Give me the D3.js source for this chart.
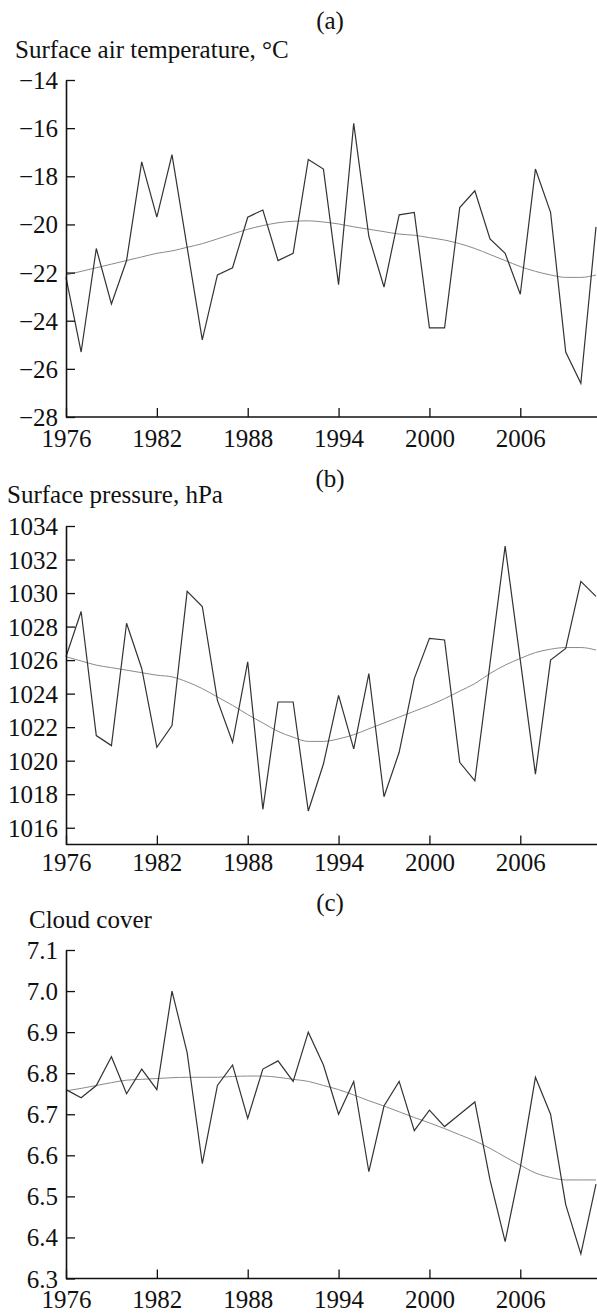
<!DOCTYPE html>
<html>
<head>
<meta charset="utf-8">
<script src="https://cdn.jsdelivr.net/npm/d3@7"></script>
<style>
  html, body { margin: 0; padding: 0; background: #fff; }
  svg { display: block; }
  text { font-family: "Liberation Serif", "Times New Roman", serif; fill: #111; }
</style>
</head>
<body>
<svg width="597" height="1314"></svg>
<script>
const years = d3.range(1976, 2012)
const xTicks = [1976, 1982, 1988, 1994, 2000, 2006]

// (a) surface air temperature
const tempValues = [-22.2, -25.3, -21.0, -23.3, -21.5, -17.4, -19.7, -17.1, -20.95, -24.8,
    -22.1, -21.8, -19.7, -19.4, -21.5, -21.2, -17.3, -17.7, -22.5, -15.8,
    -20.5, -22.6, -19.6, -19.5, -24.3, -24.3, -19.3, -18.6, -20.6, -21.2,
    -22.9, -17.7, -19.5, -25.3, -26.6, -20.1]
const tempSmooth = [-22.1, -21.95, -21.8, -21.65, -21.5, -21.35, -21.2, -21.1, -20.95, -20.8,
    -20.6, -20.4, -20.2, -20.05, -19.93, -19.87, -19.85, -19.9, -19.98, -20.1,
    -20.2, -20.3, -20.4, -20.45, -20.55, -20.65, -20.8, -21.0, -21.25, -21.5,
    -21.75, -21.95, -22.1, -22.2, -22.2, -22.1]
const tempTicks = [-28, -26, -24, -22, -20, -18, -16, -14]

// (b) surface pressure
const presValues = [1026.2, 1028.9, 1021.5, 1020.9, 1028.2, 1025.5, 1020.8, 1022.1, 1030.1, 1029.2,
    1023.6, 1021.1, 1025.9, 1017.1, 1023.5, 1023.5, 1017.0, 1019.8, 1023.9, 1020.7,
    1025.2, 1017.85, 1020.5, 1024.9, 1027.3, 1027.2, 1019.9, 1018.8, 1025.8, 1032.8,
    1026.0, 1019.2, 1026.0, 1026.7, 1030.7, 1029.8]
const presSmooth = [1026.2, 1025.95, 1025.7, 1025.55, 1025.4, 1025.25, 1025.1, 1025.0, 1024.7, 1024.3,
    1023.8, 1023.3, 1022.75, 1022.25, 1021.75, 1021.4, 1021.15, 1021.15, 1021.3, 1021.55,
    1021.9, 1022.25, 1022.6, 1022.95, 1023.3, 1023.7, 1024.15, 1024.6, 1025.2, 1025.7,
    1026.1, 1026.45, 1026.65, 1026.75, 1026.75, 1026.6]
const presTicks = [1016, 1018, 1020, 1022, 1024, 1026, 1028, 1030, 1032, 1034]

// (c) cloud cover
const cloudValues = [6.76, 6.74, 6.77, 6.84, 6.75, 6.81, 6.76, 7.00, 6.85, 6.58,
    6.77, 6.82, 6.69, 6.81, 6.83, 6.78, 6.90, 6.82, 6.70, 6.78,
    6.56, 6.72, 6.78, 6.66, 6.71, 6.67, 6.70, 6.73, 6.54, 6.39,
    6.57, 6.79, 6.70, 6.48, 6.36, 6.53]
const cloudSmooth = [6.757, 6.763, 6.77, 6.777, 6.783, 6.785, 6.787, 6.789, 6.79, 6.79,
    6.79, 6.792, 6.793, 6.793, 6.79, 6.785, 6.78, 6.77, 6.76, 6.747,
    6.733, 6.72, 6.706, 6.692, 6.679, 6.665, 6.65, 6.635, 6.617, 6.596,
    6.576, 6.557, 6.546, 6.54, 6.54, 6.54]
const cloudTicks = [6.3, 6.4, 6.5, 6.6, 6.7, 6.8, 6.9, 7.0, 7.1]

const svg = d3.select('svg')
const x = d3.scaleLinear().domain([1976, 2011]).range([66, 596])

drawPanel({
    letter: '(a)', title: 'Surface air temperature, °C', titleX: 15,
    letterY: 29, titleY: 58, top: 80, bottom: 417, labelPad: 12,
    domain: [-28, -14], ticks: tempTicks, fmt: d3.format('d'),
    values: tempValues, smooth: tempSmooth
})
drawPanel({
    letter: '(b)', title: 'Surface pressure, hPa', titleX: 7,
    letterY: 487, titleY: 503, top: 526, bottom: 844.5, labelPad: 9,
    domain: [1015, 1034], ticks: presTicks, fmt: d3.format('d'),
    values: presValues, smooth: presSmooth
})
drawPanel({
    letter: '(c)', title: 'Cloud cover', titleX: 29,
    letterY: 911, titleY: 928, top: 950, bottom: 1278.5, labelPad: 12,
    domain: [6.3, 7.1], ticks: cloudTicks, fmt: d3.format('.1f'),
    values: cloudValues, smooth: cloudSmooth
})

function drawPanel(p) {
    const y = d3.scaleLinear().domain(p.domain).range([p.bottom, p.top])
    const g = svg.append('g')

    g.append('text')
        .attr('x', 330).attr('y', p.letterY)
        .attr('text-anchor', 'middle')
        .style('font-size', '25px')
        .text(p.letter)
    g.append('text')
        .attr('x', p.titleX).attr('y', p.titleY)
        .style('font-size', '25px')
        .text(p.title)

    // smooth curve first, raw series on top
    g.append('path')
        .datum(p.smooth)
        .attr('fill', 'none')
        .attr('stroke', '#8a8a8a')
        .attr('stroke-width', 1)
        .attr('d', d3.line()
            .x((d, i) => x(years[i]))
            .y(d => y(d))
            .curve(d3.curveMonotoneX))

    g.append('path')
        .datum(p.values)
        .attr('fill', 'none')
        .attr('stroke', '#333')
        .attr('stroke-width', 1.2)
        .attr('stroke-linejoin', 'miter')
        .attr('d', d3.line()
            .x((d, i) => x(years[i]))
            .y(d => y(d)))

    const yAxis = g.append('g')
        .attr('transform', `translate(${x(1976)},0)`)
        .call(d3.axisLeft(y)
            .tickValues(p.ticks)
            .tickFormat(p.fmt)
            .tickSizeInner(-9)
            .tickSizeOuter(0)
            .tickPadding(8))
    const xAxis = g.append('g')
        .attr('transform', `translate(0,${p.bottom})`)
        .call(d3.axisBottom(x)
            .tickValues(xTicks)
            .tickFormat(d3.format('d'))
            .tickSizeInner(-9)
            .tickSizeOuter(0)
            .tickPadding(p.labelPad))
    xAxis.select('.domain').attr('d', `M${x(1976)},0H597`)

    for (const a of [yAxis, xAxis]) {
        a.selectAll('.domain').attr('stroke', '#111').attr('stroke-width', 1.6)
        a.selectAll('.tick line').attr('stroke', '#111').attr('stroke-width', 1.3)
        a.selectAll('.tick text')
            .style('font-family', '"Liberation Serif", "Times New Roman", serif')
            .style('font-size', '25px')
            .attr('fill', '#111')
    }
    yAxis.selectAll('.tick text').attr('dy', '0.34em')
}
</script>
</body>
</html>
